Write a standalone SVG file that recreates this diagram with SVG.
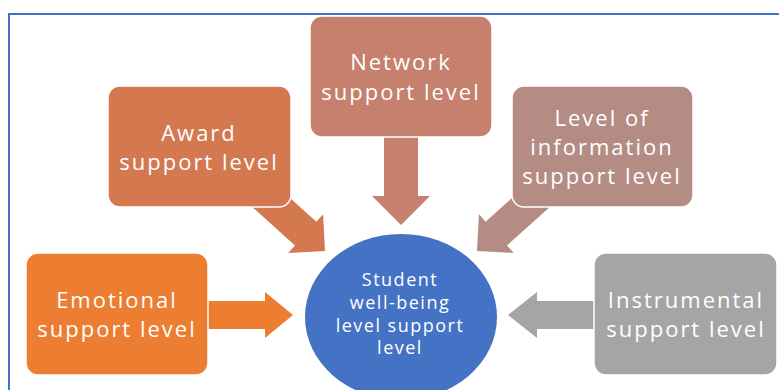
<svg xmlns="http://www.w3.org/2000/svg" width="779" height="390" viewBox="0 0 779 390">
  <style>
    .box { stroke: #ffffff; stroke-width: 1.5; }
    .lbl { font-family: "Open Sans", "Noto Sans", sans-serif; font-size: 22px; letter-spacing: 2px; fill: #ffffff; text-anchor: middle; }
    .hub { font-family: "Open Sans", "Noto Sans", sans-serif; font-size: 18px; letter-spacing: 1.5px; fill: #ffffff; text-anchor: middle; }
  </style>
  <defs>
    <!-- block arrow pointing along +x, tip at origin -->
    <polygon id="blockArrow" points="-90,-16 -26,-16 -26,-26 0,0 -26,26 -26,16 -90,16"/>
  </defs>

  <rect width="779" height="390" fill="#ffffff"/>

  <!-- frame -->
  <g id="frame" fill="none" stroke="#4472C4" stroke-width="2">
    <polyline points="9,390 9,14 779,14"/>
  </g>

  <!-- connectors -->
  <g id="connectors">
    <polygon fill="#C5806E" points="384,137 418,137 418,196 430,196 401,225 372,196 384,196"/>
    <use href="#blockArrow" fill="#D4784F" transform="translate(325,251) rotate(42)"/>
    <use href="#blockArrow" fill="#B48C84" transform="translate(477,251) rotate(138)"/>
    <polygon fill="#ED7D31" points="208,301 265,301 265,292 293,315 265,338 265,329 208,329"/>
    <polygon fill="#A5A5A5" points="594,301 537,301 537,292 508,315 537,338 537,329 594,329"/>
  </g>

  <g id="network">
    <rect class="box" x="310" y="16" width="182" height="121" rx="12" fill="#C5806E"/>
    <text class="lbl" x="401" y="70">Network</text>
    <text class="lbl" x="401" y="100">support level</text>
  </g>

  <g id="award">
    <rect class="box" x="108" y="86" width="183" height="121" rx="12" fill="#D4784F"/>
    <text class="lbl" x="199" y="141">Award</text>
    <text class="lbl" x="199" y="170">support level</text>
  </g>

  <g id="information">
    <rect class="box" x="512" y="86" width="181" height="121" rx="12" fill="#B48C84"/>
    <text class="lbl" x="602" y="126">Level of</text>
    <text class="lbl" x="602" y="155">information</text>
    <text class="lbl" x="602" y="184">support level</text>
  </g>

  <g id="emotional">
    <rect class="box" x="26" y="253" width="182" height="122" rx="12" fill="#ED7D31"/>
    <text class="lbl" x="117" y="308">Emotional</text>
    <text class="lbl" x="117" y="337">support level</text>
  </g>

  <g id="instrumental">
    <rect class="box" x="594" y="253" width="183" height="122" rx="12" fill="#A5A5A5"/>
    <text class="lbl" x="686" y="308">Instrumental</text>
    <text class="lbl" x="686" y="337">support level</text>
  </g>

  <g id="student">
    <ellipse cx="401" cy="317" rx="96" ry="83" fill="#4472C4"/>
    <text class="hub" x="400" y="286">Student</text>
    <text class="hub" x="400" y="309">well-being</text>
    <text class="hub" x="400" y="332">level support</text>
    <text class="hub" x="400" y="354">level</text>
  </g>
</svg>
